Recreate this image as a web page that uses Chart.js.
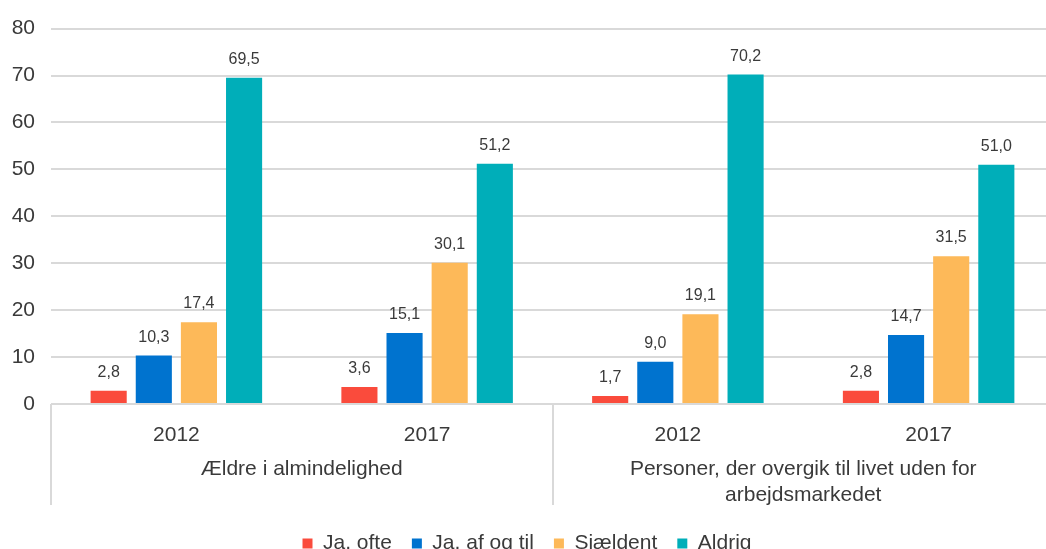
<!DOCTYPE html>
<html>
<head>
<meta charset="utf-8">
<script src="https://cdn.jsdelivr.net/npm/chart.js@4"></script>
<style>
  html, body { margin: 0; padding: 0; background: #fff; overflow: hidden; }
  #wrap { width: 1054px; height: 564px; }
</style>
</head>
<body>
<div id="wrap"><canvas id="chart"></canvas></div>
<script>
var years = ['2012', '2017', '2012', '2017'];
var groups = ['Ældre i almindelighed', ['Personer, der overgik til livet uden for', 'arbejdsmarkedet']];
var jaOfte = [2.8, 3.6, 1.7, 2.8];
var jaAfOgTil = [10.3, 15.1, 9.0, 14.7];
var sjaeldent = [17.4, 30.1, 19.1, 31.5];
var aldrig = [69.5, 51.2, 70.2, 51.0];
var yTicks = [0, 10, 20, 30, 40, 50, 60, 70, 80];

var FONT = '"Liberation Sans", Arial, sans-serif';
var TEXT = '#3a3a3a';
var GRID = '#d9d9d9';

// value labels above the bars, with danish decimal comma
var barLabels = {
    id: 'barLabels',
    afterDatasetsDraw: function(chart) {
        var ctx = chart.ctx;
        ctx.save();
        ctx.font = '16px ' + FONT;
        ctx.fillStyle = TEXT;
        ctx.textAlign = 'center';
        ctx.textBaseline = 'alphabetic';
        chart.data.datasets.forEach(function(ds, i) {
            chart.getDatasetMeta(i).data.forEach(function(bar, j) {
                var txt = ds.data[j].toFixed(1).replace('.', ',');
                ctx.fillText(txt, bar.x, bar.y - 14);
            });
        });
        ctx.restore();
    }
};

// vertical separators between the two groups under the axis
var groupLines = {
    id: 'groupLines',
    afterDraw: function(chart) {
        var x = chart.scales.x, x2 = chart.scales.x2;
        var ctx = chart.ctx;
        var edges = [x.left, (x.getPixelForValue(1) + x.getPixelForValue(2)) / 2, x.right];
        ctx.save();
        ctx.strokeStyle = GRID;
        ctx.lineWidth = 2;
        edges.forEach(function(px) {
            px = Math.round(px);
            ctx.beginPath();
            ctx.moveTo(px, chart.chartArea.bottom);
            ctx.lineTo(px, x2.bottom - 8);
            ctx.stroke();
        });
        ctx.restore();
    }
};

function makeSet(label, data, color) {
    return {
        label: label,
        data: data,
        backgroundColor: color,
        borderWidth: 0,
        barPercentage: 0.8,
        categoryPercentage: 0.72,
        xAxisID: 'x'
    };
}

var ctx = document.getElementById('chart').getContext('2d');
var myChart = new Chart(ctx, {
    type: 'bar',
    data: {
        labels: years,
        datasets: [
            makeSet('Ja, ofte', jaOfte, '#fa4b3c'),
            makeSet('Ja, af og til', jaAfOgTil, '#0073cf'),
            makeSet('Sjældent', sjaeldent, '#fdb959'),
            makeSet('Aldrig', aldrig, '#00aeb9')
        ]
    },
    plugins: [barLabels, groupLines],
    options: {
        maintainAspectRatio: false,
        responsive: true,
        animation: false,
        layout: {
            padding: { top: 17, right: 0, left: 0, bottom: 0 }
        },
        plugins: {
            legend: {
                position: 'bottom',
                labels: {
                    boxWidth: 10,
                    boxHeight: 10,
                    padding: 20,
                    color: TEXT,
                    font: { family: FONT, size: 21 }
                }
            },
            tooltip: { enabled: false }
        },
        scales: {
            x: {
                grid: { display: false, drawTicks: false },
                border: { display: false },
                afterFit: function(axis) { axis.height = 52; },
                ticks: {
                    color: TEXT,
                    padding: 19,
                    font: { family: FONT, size: 21 }
                }
            },
            x2: {
                type: 'category',
                labels: groups,
                position: 'bottom',
                offset: true,
                grid: { display: false, drawTicks: false },
                border: { display: false },
                afterFit: function(axis) { axis.height = axis.height + 5; },
                ticks: {
                    color: TEXT,
                    padding: 0,
                    maxRotation: 0,
                    autoSkip: false,
                    font: { family: FONT, size: 21, lineHeight: 1.24 }
                }
            },
            y: {
                min: 0,
                max: 80,
                afterBuildTicks: function(axis) {
                    axis.ticks = yTicks.map(function(v) { return { value: v }; });
                },
                afterFit: function(axis) { axis.width = 51; },
                grid: { color: GRID, lineWidth: 2, drawTicks: false },
                border: { display: false },
                ticks: {
                    color: TEXT,
                    padding: 16,
                    font: { family: FONT, size: 21 }
                }
            }
        }
    }
});
</script>
</body>
</html>
